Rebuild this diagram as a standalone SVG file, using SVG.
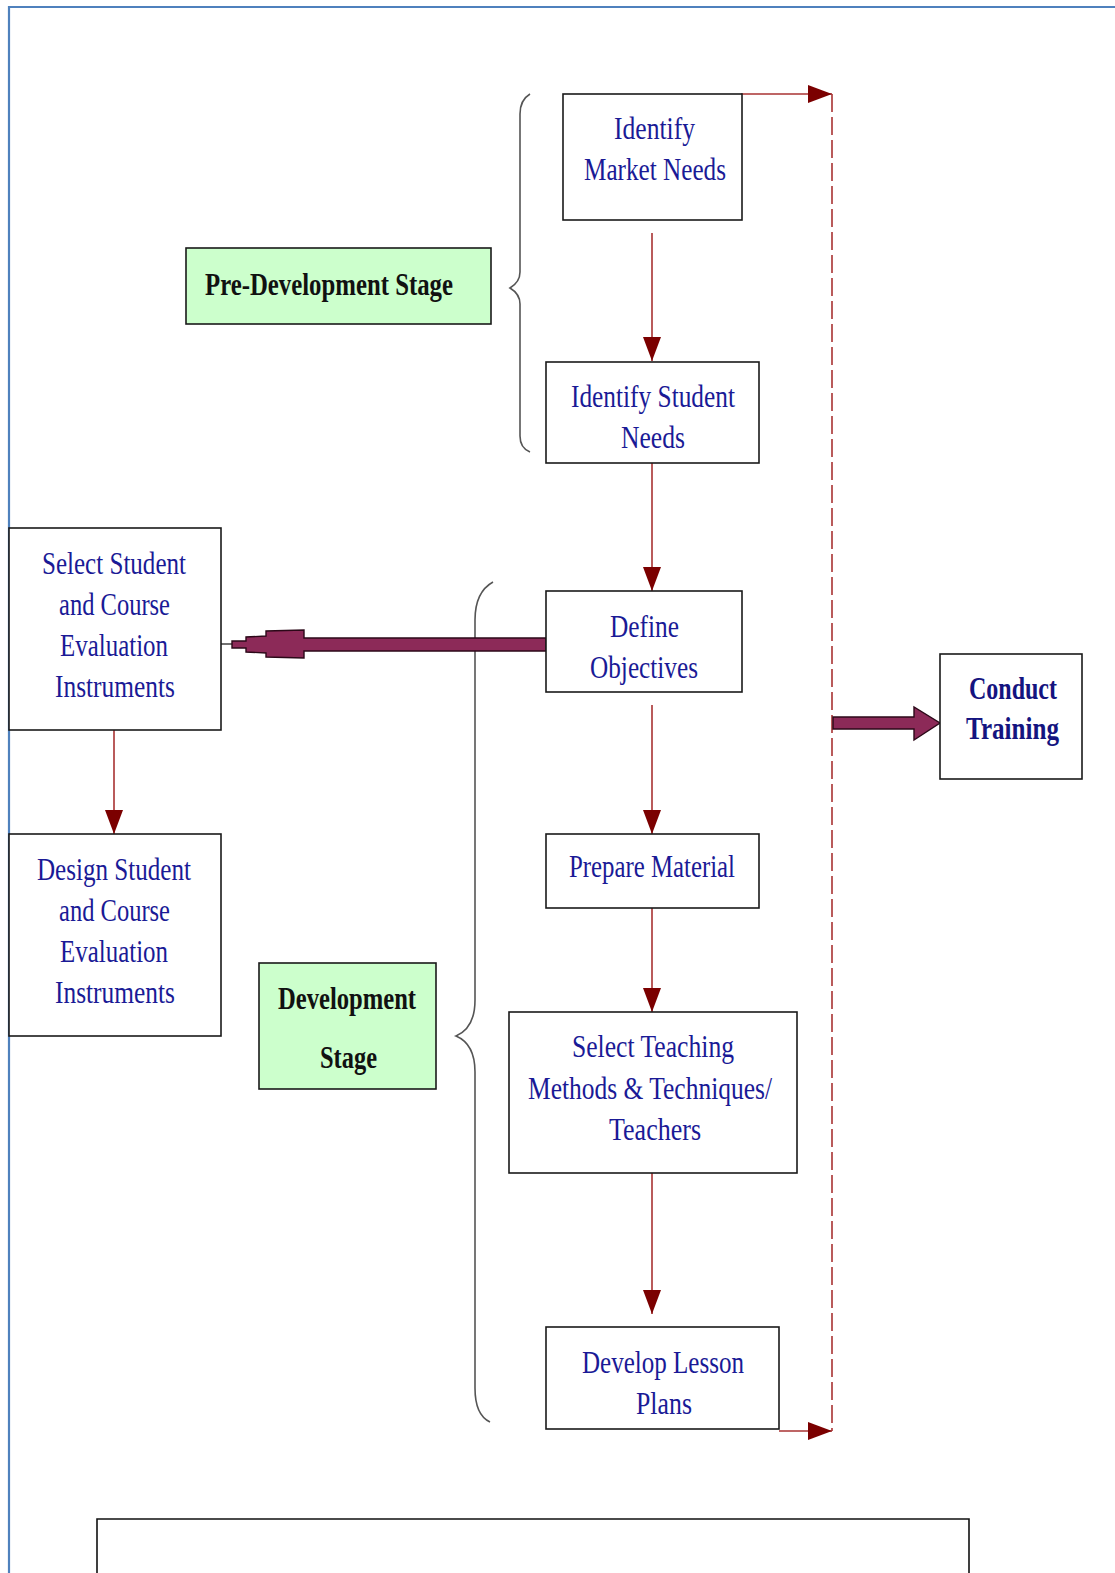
<svg xmlns="http://www.w3.org/2000/svg" width="1115" height="1573" viewBox="0 0 1115 1573">
<defs>
<marker id="ah" viewBox="0 0 24 18" refX="24" refY="9" markerWidth="24" markerHeight="18" markerUnits="userSpaceOnUse" orient="auto">
<path d="M0,0 L24,9 L0,18 Z" fill="#7b0000"/>
</marker>
<style>
.box{fill:#ffffff;stroke:#1a1a1a;stroke-width:1.6}
.green{fill:#ccffcc;stroke:#1a1a1a;stroke-width:1.6}
.t{font-family:"Liberation Serif","Times New Roman",serif;font-size:31px;fill:#1a1a96}
.b{font-family:"Liberation Serif","Times New Roman",serif;font-size:31px;font-weight:bold;fill:#111111}
.bb{font-family:"Liberation Serif","Times New Roman",serif;font-size:31px;font-weight:bold;fill:#141480}
.ln{fill:none;stroke:#a83232;stroke-width:1.6}
.dash{fill:none;stroke:#a83232;stroke-width:1.6;stroke-dasharray:18 5}
.brace{fill:none;stroke:#555555;stroke-width:1.6}
.thick{fill:#8c2a58;stroke:#2b0818;stroke-width:1.4}
</style>
</defs>
<rect x="0" y="0" width="1115" height="1573" fill="#ffffff"/>
<g id="frame">
<path d="M9,1573 L9,7 L1115,7" fill="none" stroke="#4f81bd" stroke-width="2.2"/>
<path d="M97,1573 L97,1519 L969,1519 L969,1573" fill="none" stroke="#111" stroke-width="1.6"/>
</g>
<g id="braces">
<path class="brace" d="M530,94 Q520,100 520,114 L520,272 Q520,282 510,288 Q520,294 520,304 L520,436 Q520,448 530,452"/>
<path class="brace" d="M493,582 Q475,592 475,620 L475,1000 Q475,1028 456,1036 Q475,1044 475,1072 L475,1388 Q475,1415 490,1422"/>
</g>
<g id="connectors">
<line class="ln" x1="652" y1="233" x2="652" y2="361" marker-end="url(#ah)"/>
<line class="ln" x1="652" y1="462" x2="652" y2="591" marker-end="url(#ah)"/>
<line class="ln" x1="652" y1="705" x2="652" y2="834" marker-end="url(#ah)"/>
<line class="ln" x1="652" y1="908" x2="652" y2="1012" marker-end="url(#ah)"/>
<line class="ln" x1="652" y1="1173" x2="652" y2="1314" marker-end="url(#ah)"/>
<line class="ln" x1="114" y1="730" x2="114" y2="834" marker-end="url(#ah)"/>
<line class="ln" x1="741" y1="94" x2="832" y2="94" marker-end="url(#ah)"/>
<line class="ln" x1="779" y1="1431" x2="832" y2="1431" marker-end="url(#ah)"/>
<line class="dash" x1="832" y1="94" x2="832" y2="1431"/>
<line x1="221" y1="644" x2="233" y2="644" stroke="#333" stroke-width="1.4"/>
<path class="thick" d="M232,641 L246,641 L246,637 L266,636 L266,631 L304,630 L304,638 L546,638 L546,651 L304,651 L304,658 L266,657 L266,653 L246,652 L246,648 L232,648 Z"/>
<path class="thick" d="M833,717 L914,717 L914,707 L940,723 L914,740 L914,729 L833,729 Z"/>
</g>
<g id="n_market">
<rect class="box" x="563" y="94" width="179" height="126"/>
<text class="t" x="614" y="139" textLength="81" lengthAdjust="spacingAndGlyphs">Identify</text>
<text class="t" x="584" y="180" textLength="142" lengthAdjust="spacingAndGlyphs">Market Needs</text>
</g>
<g id="n_student">
<rect class="box" x="546" y="362" width="213" height="101"/>
<text class="t" x="571" y="407" textLength="164" lengthAdjust="spacingAndGlyphs">Identify Student</text>
<text class="t" x="621" y="448" textLength="64" lengthAdjust="spacingAndGlyphs">Needs</text>
</g>
<g id="n_objectives">
<rect class="box" x="546" y="591" width="196" height="101"/>
<text class="t" x="610" y="637" textLength="69" lengthAdjust="spacingAndGlyphs">Define</text>
<text class="t" x="590" y="678" textLength="108" lengthAdjust="spacingAndGlyphs">Objectives</text>
</g>
<g id="n_material">
<rect class="box" x="546" y="834" width="213" height="74"/>
<text class="t" x="569" y="877" textLength="166" lengthAdjust="spacingAndGlyphs">Prepare Material</text>
</g>
<g id="n_teaching">
<rect class="box" x="509" y="1012" width="288" height="161"/>
<text class="t" x="572" y="1057" textLength="162" lengthAdjust="spacingAndGlyphs">Select Teaching</text>
<text class="t" x="528" y="1099" textLength="244" lengthAdjust="spacingAndGlyphs">Methods &amp; Techniques/</text>
<text class="t" x="609" y="1140" textLength="92" lengthAdjust="spacingAndGlyphs">Teachers</text>
</g>
<g id="n_lesson">
<rect class="box" x="546" y="1327" width="233" height="102"/>
<text class="t" x="582" y="1373" textLength="162" lengthAdjust="spacingAndGlyphs">Develop Lesson</text>
<text class="t" x="636" y="1414" textLength="56" lengthAdjust="spacingAndGlyphs">Plans</text>
</g>
<g id="n_select_eval">
<rect class="box" x="9" y="528" width="212" height="202"/>
<text class="t" x="42" y="574" textLength="144" lengthAdjust="spacingAndGlyphs">Select Student</text>
<text class="t" x="59" y="615" textLength="111" lengthAdjust="spacingAndGlyphs">and Course</text>
<text class="t" x="60" y="656" textLength="108" lengthAdjust="spacingAndGlyphs">Evaluation</text>
<text class="t" x="55" y="697" textLength="120" lengthAdjust="spacingAndGlyphs">Instruments</text>
</g>
<g id="n_design_eval">
<rect class="box" x="9" y="834" width="212" height="202"/>
<text class="t" x="37" y="880" textLength="154" lengthAdjust="spacingAndGlyphs">Design Student</text>
<text class="t" x="59" y="921" textLength="111" lengthAdjust="spacingAndGlyphs">and Course</text>
<text class="t" x="60" y="962" textLength="108" lengthAdjust="spacingAndGlyphs">Evaluation</text>
<text class="t" x="55" y="1003" textLength="120" lengthAdjust="spacingAndGlyphs">Instruments</text>
</g>
<g id="n_predev">
<rect class="green" x="186" y="248" width="305" height="76"/>
<text class="b" x="205" y="295" textLength="248" lengthAdjust="spacingAndGlyphs">Pre-Development Stage</text>
</g>
<g id="n_dev">
<rect class="green" x="259" y="963" width="177" height="126"/>
<text class="b" x="278" y="1009" textLength="138" lengthAdjust="spacingAndGlyphs">Development</text>
<text class="b" x="320" y="1068" textLength="57" lengthAdjust="spacingAndGlyphs">Stage</text>
</g>
<g id="n_conduct">
<rect class="box" x="940" y="654" width="142" height="125"/>
<text class="bb" x="969" y="699" textLength="88" lengthAdjust="spacingAndGlyphs">Conduct</text>
<text class="bb" x="966" y="739" textLength="93" lengthAdjust="spacingAndGlyphs">Training</text>
</g>
</svg>
